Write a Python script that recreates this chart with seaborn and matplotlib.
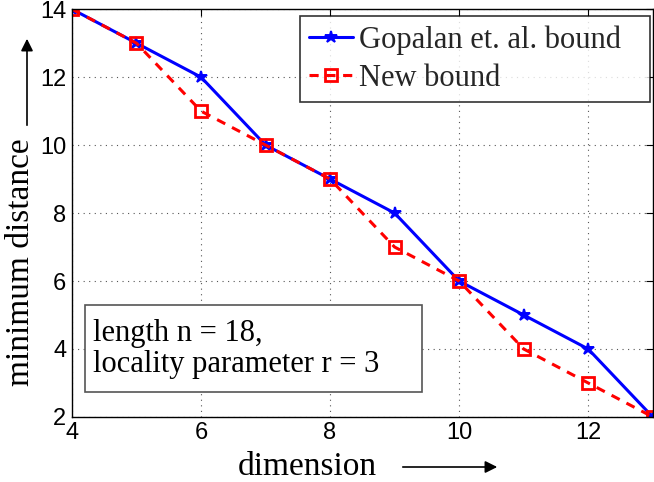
import seaborn as sns
import matplotlib.pyplot as plt
import matplotlib.patches as mpatches
import pandas as pd

# data
dimension = [4, 5, 6, 7, 8, 9, 10, 11, 12, 13]
gopalan_bound = [14, 13, 12, 10, 9, 8, 6, 5, 4, 2]
new_bound = [14, 13, 11, 10, 9, 7, 6, 4, 3, 2]
x_ticks = [4, 6, 8, 10, 12]
y_ticks = [2, 4, 6, 8, 10, 12, 14]

df = pd.DataFrame({"dimension": dimension, "Gopalan": gopalan_bound, "New": new_bound})

sns.set_theme(style="white")
plt.rcParams["font.family"] = ["Liberation Sans", "DejaVu Sans"]
serif = ["Liberation Serif", "DejaVu Serif"]

fig = plt.figure(figsize=(6.54, 4.82), dpi=100)
ax = fig.add_axes([0.110, 0.135, 0.888, 0.846])

sns.lineplot(data=df, x="dimension", y="Gopalan", ax=ax, color="#0000ff",
             linewidth=2.2, marker="*", markersize=9, markeredgewidth=1.4,
             markeredgecolor="#0000ff", label="Gopalan et. al. bound")
sns.lineplot(data=df, x="dimension", y="New", ax=ax, color="#ff0000",
             linewidth=2.2, linestyle=(0, (3, 2.5)), marker="s", markersize=8,
             markerfacecolor="none", markeredgewidth=2, markeredgecolor="#ff0000",
             label="New bound")

ax.set_xlim(4, 13)
ax.set_ylim(2, 14)
ax.set_xticks(x_ticks)
ax.set_yticks(y_ticks)
ax.tick_params(direction="in", length=5, width=0.8, labelsize=17,
               top=True, right=True, colors="black", pad=4)
ax.grid(True, linestyle=(0, (1, 4)), color="#555555", linewidth=0.8)
for s in ax.spines.values():
    s.set_color("black")
    s.set_linewidth(1.0)

ax.set_xlabel("dimension", fontsize=24, family=serif, color="black")
ax.set_ylabel("minimum distance", fontsize=24, family=serif, color="black")
ax.xaxis.set_label_coords(0.405, -0.085)
ax.yaxis.set_label_coords(-0.062, 0.38)

leg = ax.legend(loc="upper left", bbox_to_anchor=(0.392, 0.5, 0.604, 0.483),
                mode="expand", prop={"family": serif, "size": 22},
                frameon=True, fancybox=False, edgecolor="black",
                borderpad=0.3, labelspacing=0.3, handlelength=1.45,
                handletextpad=0.2, borderaxespad=0.0)
leg.get_frame().set_linewidth(1.2)

# annotation box
ax.add_patch(mpatches.Rectangle((0.0224, 0.061), 0.58, 0.213, transform=ax.transAxes,
                                facecolor="white", edgecolor="#555555",
                                linewidth=1.2, zorder=4))
ax.text(0.036, 0.167, "length n = 18,\nlocality parameter r = 3",
        transform=ax.transAxes, fontsize=22, family=serif, color="black",
        linespacing=1.12, va="center", ha="left", zorder=5)

# arrows next to axis labels
ax.annotate("", xy=(500 / 654, 1 - 467 / 482), xytext=(400 / 654, 1 - 467 / 482),
            xycoords="figure fraction",
            arrowprops=dict(arrowstyle="-|>", color="black", lw=1.2, mutation_scale=18))
ax.annotate("", xy=(27 / 654, 1 - 36 / 482), xytext=(27 / 654, 1 - 128 / 482),
            xycoords="figure fraction",
            arrowprops=dict(arrowstyle="-|>", color="black", lw=1.2, mutation_scale=18))

fig.savefig("out.png", dpi=100)
